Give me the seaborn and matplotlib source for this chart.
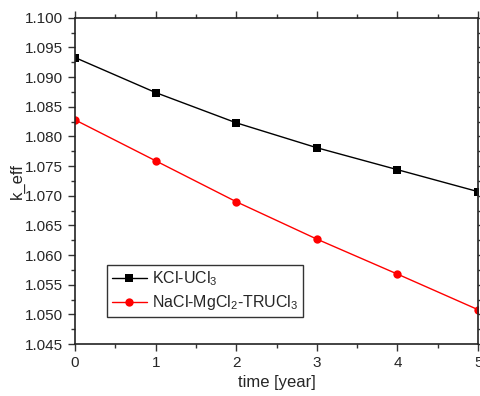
import pandas as pd
import numpy as np
import matplotlib.pyplot as plt
import seaborn as sns

years = [0, 1, 2, 3, 4, 5]
kcl_ucl3 = [1.0933, 1.0874, 1.0823, 1.0781, 1.0744, 1.0707]
nacl_trucl3 = [1.0828, 1.0759, 1.0690, 1.0627, 1.0568, 1.0508]
labels = ['KCl-UCl$_\\mathregular{3}$', 'NaCl-MgCl$_\\mathregular{2}$-TRUCl$_\\mathregular{3}$']

sns.set_style("ticks")
plt.rcParams['font.family'] = ['Liberation Sans', 'DejaVu Sans']
plt.rcParams['mathtext.fontset'] = 'custom'
plt.rcParams['mathtext.rm'] = 'Liberation Sans'

df = pd.DataFrame({'time': years + years,
                   'keff': kcl_ucl3 + nacl_trucl3,
                   'fuel': [labels[0]] * 6 + [labels[1]] * 6})

fig = plt.figure(figsize=(4.81, 3.96), dpi=100)
ax = fig.add_axes([0.156, 0.131, 0.838, 0.824])

sns.lineplot(data=df, x='time', y='keff', hue='fuel', style='fuel',
             palette=['black', 'red'], markers=['s', 'o'], dashes=False,
             markersize=6, markeredgewidth=0, linewidth=1, ax=ax)

ax.set_xlim(0, 5)
ax.set_ylim(1.045, 1.100)
ax.set_xticks(np.arange(0, 6, 1))
ax.set_yticks(np.arange(1.045, 1.1001, 0.005))
ax.set_yticklabels(['%.3f' % v for v in np.arange(1.045, 1.1001, 0.005)])
ax.set_xticks(np.arange(0, 5.01, 0.5), minor=True)
ax.set_yticks(np.arange(1.045, 1.1001, 0.0025), minor=True)
ax.tick_params(which='both', direction='out', top=True, right=True,
               labelsize=11, width=1, color='#333333')
ax.tick_params(which='major', length=5)
ax.tick_params(which='minor', length=3)
for sp in ax.spines.values():
    sp.set_linewidth(1.2)
    sp.set_color('#222222')

ax.set_xlabel('time [year]', fontsize=12)
ax.set_ylabel('k_eff', fontsize=12, labelpad=0)

leg = ax.legend(loc='lower left', bbox_to_anchor=(0.079, 0.083), fontsize=11.5,
                frameon=True, fancybox=False, edgecolor='black',
                borderaxespad=0, handlelength=2.2, handletextpad=0.3,
                labelspacing=0.3, borderpad=0.3)
leg.get_frame().set_linewidth(1)

plt.savefig('out.png', dpi=100)
